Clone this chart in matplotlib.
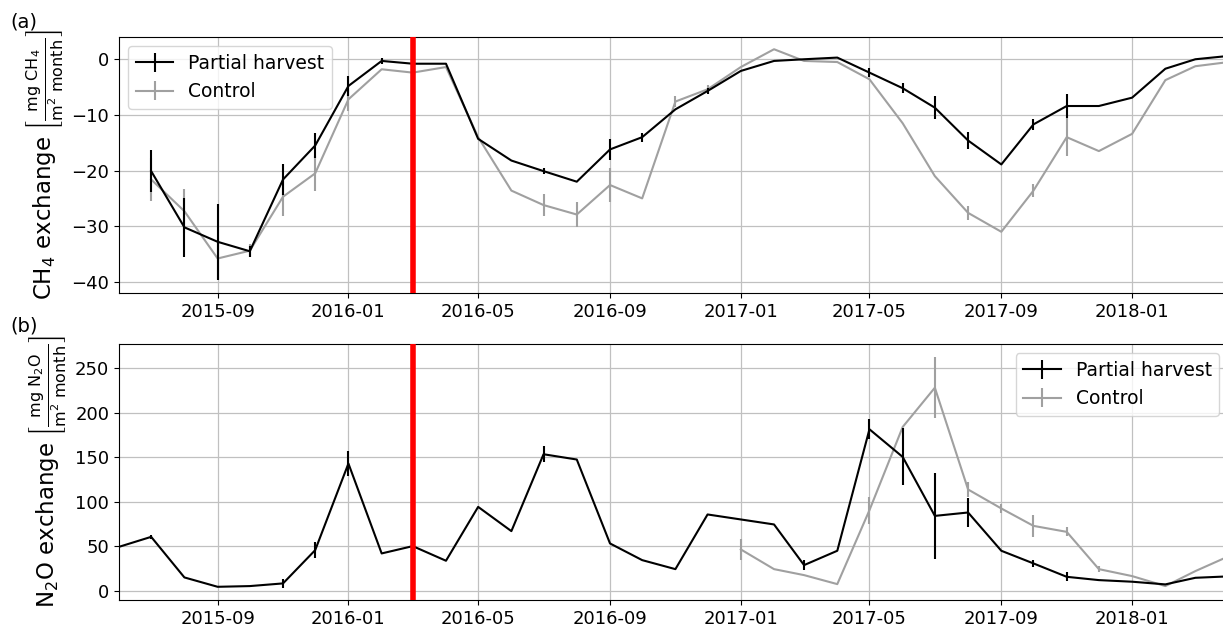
import matplotlib
matplotlib.use("Agg")
import matplotlib.pyplot as plt
import matplotlib.dates as mdates
import pandas as pd
import numpy as np

# ---- data ----
ch4_months = ["2015-07", "2015-08", "2015-09", "2015-10", "2015-11", "2015-12",
              "2016-01", "2016-02", "2016-03", "2016-04", "2016-05", "2016-06",
              "2016-07", "2016-08", "2016-09", "2016-10", "2016-11", "2016-12",
              "2017-01", "2017-02", "2017-03", "2017-04", "2017-05", "2017-06",
              "2017-07", "2017-08", "2017-09", "2017-10", "2017-11", "2017-12",
              "2018-01", "2018-02", "2018-03", "2018-04"]
ch4_partial = [-20.1, -30.2, -32.8, -34.5, -21.6, -15.5, -4.8, -0.3, -0.8, -0.8,
               -14.3, -18.2, -20.1, -22.0, -16.2, -14.0, -9.0, -5.7, -2.1, -0.3,
               0.0, 0.3, -2.4, -5.2, -8.7, -14.6, -18.9, -11.7, -8.4, -8.4,
               -6.9, -1.7, 0.0, 0.6]
ch4_partial_err = [3.8, 5.3, 6.8, 1.0, 2.8, 2.2, 1.8, 0.5, 0, 0,
                   0, 0, 0.6, 0, 1.9, 0.8, 0, 0.5, 0, 0,
                   0, 0, 0.8, 0.9, 2.1, 1.6, 0, 1.0, 2.2, 0,
                   0, 0, 0, 0]
ch4_control = [-21.6, -27.3, -35.8, -34.4, -24.7, -20.5, -7.2, -1.8, -2.4, -1.4,
               -14.0, -23.6, -26.2, -27.9, -22.6, -25.0, -7.6, -5.4, -1.4, 1.8,
               -0.3, -0.5, -3.6, -11.5, -21.0, -27.6, -31.0, -23.6, -14.0, -16.5,
               -13.4, -3.75, -1.25, -0.5]
ch4_control_err = [3.8, 4.0, 3.7, 1.2, 3.5, 3.2, 2.1, 0, 0, 0,
                   0, 0, 1.9, 2.3, 3.0, 0, 1.0, 0.8, 0, 0,
                   0, 0, 0, 0, 0, 1.2, 0, 1.2, 3.4, 0,
                   0, 0, 0, 0]

n2o_months = ["2015-06"] + ch4_months
n2o_partial = [49.6, 60.8, 15.3, 4.8, 5.6, 8.6, 45.9, 143.0, 42.2, 50.4,
               34.0, 94.4, 67.2, 153.4, 147.5, 53.4, 34.7, 24.6, 85.9, 80.3,
               74.7, 29.1, 45.2, 181.4, 150.4, 84.3, 88.1, 45.2, 31.0, 16.0,
               12.3, 10.5, 7.5, 14.9, 16.5]
n2o_partial_err = [0, 2, 0, 0, 0, 5, 9, 14, 0, 2,
                   0, 0, 0, 9, 0, 0, 0, 0, 0, 0,
                   0, 6, 0, 11, 32, 48, 16, 0, 4, 5,
                   0, 0, 0, 0, 0]
n2o_ctrl_months = ["2017-01", "2017-02", "2017-03", "2017-04", "2017-05", "2017-06",
                   "2017-07", "2017-08", "2017-09", "2017-10", "2017-11", "2017-12",
                   "2018-01", "2018-02", "2018-03", "2018-04"]
n2o_control = [46.7, 24.6, 17.9, 7.8, 90.7, 184.0, 228.0, 113.9, 92.6, 73.1,
               66.4, 24.6, 16.8, 5.6, 22.4, 39.0]
n2o_control_err = [12, 0, 0, 0, 15, 0, 34, 8, 5, 12, 5, 3, 0, 0, 0, 0]

harvest_date = "2016-03-01"
x_start, x_end = "2015-06-01", "2018-04-01"

# ---- plot ----
W, H = 1223, 626
fig = plt.figure(figsize=(W / 100, H / 100), dpi=100)
right = 1228.6 / W
ax1 = fig.add_axes([119 / W, 1 - 293 / H, right - 119 / W, (293 - 37) / H])
ax2 = fig.add_axes([119 / W, 1 - 600 / H, right - 119 / W, (600 - 344) / H])

black = "black"
grey = "#a0a0a0"

def to_dt(lst):
    return pd.to_datetime([m + "-01" for m in lst])

ax1.errorbar(to_dt(ch4_months), ch4_partial, yerr=ch4_partial_err, color=black,
             lw=1.5, elinewidth=1.5, label="Partial harvest", zorder=3)
ax1.errorbar(to_dt(ch4_months), ch4_control, yerr=ch4_control_err, color=grey,
             lw=1.5, elinewidth=1.5, label="Control", zorder=2)
ax2.errorbar(to_dt(n2o_months), n2o_partial, yerr=n2o_partial_err, color=black,
             lw=1.5, elinewidth=1.5, label="Partial harvest", zorder=3)
ax2.errorbar(to_dt(n2o_ctrl_months), n2o_control, yerr=n2o_control_err, color=grey,
             lw=1.5, elinewidth=1.5, label="Control", zorder=2)

for ax in (ax1, ax2):
    ax.axvline(pd.Timestamp(harvest_date), color="red", lw=4, zorder=4)
    ax.set_xlim(pd.Timestamp(x_start), pd.Timestamp(x_end))
    ax.xaxis.set_major_locator(mdates.MonthLocator(bymonth=[1, 5, 9]))
    ax.xaxis.set_major_formatter(mdates.DateFormatter("%Y-%m"))
    ax.grid(True, color="#c0c0c0", lw=0.9)
    ax.set_axisbelow(True)
    ax.tick_params(labelsize=13)

ax1.set_ylim(-42, 4)
ax1.set_yticks([0, -10, -20, -30, -40])
ax2.set_ylim(-10, 277)
ax2.set_yticks([0, 50, 100, 150, 200, 250])

ax1.set_ylabel(r"CH$_4$ exchange $\left[\frac{\mathrm{mg\ CH_4}}{\mathrm{m^2\ month}}\right]$",
               fontsize=16.5, labelpad=4)
ax2.set_ylabel(r"N$_2$O exchange $\left[\frac{\mathrm{mg\ N_2O}}{\mathrm{m^2\ month}}\right]$",
               fontsize=16.5, labelpad=4)

ax1.legend(loc="upper left", fontsize=13.5)
ax2.legend(loc="upper right", fontsize=13.5)

fig.text(10 / W, 1 - 22 / H, "(a)", fontsize=14, va="center", ha="left")
fig.text(10 / W, 1 - 326 / H, "(b)", fontsize=14, va="center", ha="left")

fig.savefig("out.png", dpi=100)
